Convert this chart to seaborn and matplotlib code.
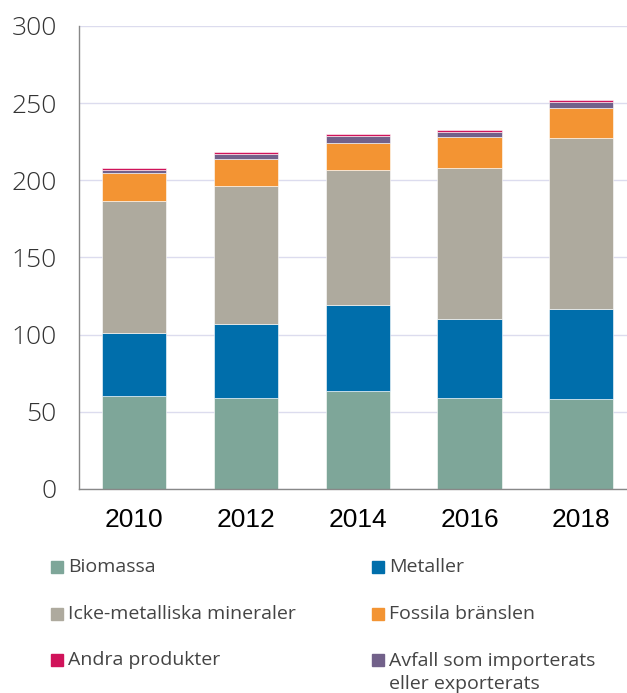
import pandas as pd
import matplotlib.pyplot as plt
import seaborn as sns
from matplotlib.patches import Rectangle

# ── DATA ─────────────────────────────────────────────────────────────────────
years     = ["2010", "2012", "2014", "2016", "2018"]
biomassa  = [60.5, 59.1, 63.2, 59.1, 58.5]
metaller  = [40.5, 48.1, 55.7, 50.9, 58.4]
icke_met  = [85.3, 89.1, 87.7, 98.2, 110.2]
fossila   = [18.3, 17.2, 17.7, 19.6, 19.7]
avfall    = [2.2, 3.5, 4.3, 3.5, 4.0]
andra     = [1.0, 1.1, 1.2, 1.0, 1.5]

cats = ["Biomassa", "Metaller", "Icke-metalliska mineraler",
        "Fossila bränslen", "Avfall som importerats\neller exporterats",
        "Andra produkter"]
series = [biomassa, metaller, icke_met, fossila, avfall, andra]
colors = ["#7ea699", "#006eab", "#aeaa9e", "#f39433", "#72618a", "#d0135a"]

df = pd.DataFrame([(y, c, v) for c, vals in zip(cats, series)
                   for y, v in zip(years, vals)],
                  columns=["year", "category", "value"])

# ── PLOT ─────────────────────────────────────────────────────────────────────
sns.set_theme(style="white")
fig = plt.figure(figsize=(6.27, 6.93), dpi=100)
ax = fig.add_axes([0.126, 0.2944, 0.874, 0.6681])

# histplot stacks the first hue level on top -> reverse the order
sns.histplot(data=df, x="year", weights="value", hue="category",
             hue_order=cats[::-1], palette=dict(zip(cats, colors)),
             multiple="stack", discrete=True, shrink=0.575, alpha=1,
             edgecolor="white", linewidth=0.4, legend=False, ax=ax)

ax.set_ylim(0, 300)
ax.set_xlim(-0.494, 4.41)
ax.set_yticks(range(0, 301, 50))
ax.yaxis.grid(True, color="#dcdcee", linewidth=1)
ax.set_axisbelow(True)
for s in ["top", "right"]:
    ax.spines[s].set_visible(False)
for s in ["left", "bottom"]:
    ax.spines[s].set_color("#888888")
    ax.spines[s].set_linewidth(1)
ax.set_xlabel("")
ax.set_ylabel("")
ax.tick_params(axis="y", length=0, pad=16, labelsize=19, labelcolor="#333333")
ax.tick_params(axis="x", length=0, pad=14, labelsize=19, labelcolor="black")
for t in ax.get_yticklabels():
    t.set_family("Open Sans")
    t.set_fontweight("light")
for t in ax.get_xticklabels():
    t.set_family("Liberation Sans")

# legend, two columns (drawn by hand so the two-line label sits like the original)
W, H = 627, 693
leg_order = [(0, 0), (1, 1), (2, 0), (3, 1), (5, 0), (4, 1)]
row_y = [567, 567, 614, 614, 660, 660]
xcol = {0: 51, 1: 372}
for (ci, col), y in zip(leg_order, row_y):
    x = xcol[col]
    fig.add_artist(Rectangle((x / W, 1 - (y + 6) / H), 11.5 / W, 12.3 / H,
                             transform=fig.transFigure, color=colors[ci]))
    if "\n" in cats[ci]:
        fig.text((x + 17) / W, 1 - (y - 8) / H, cats[ci], family="Open Sans",
                 fontsize=14, color="#444444", va="top", linespacing=1.35)
    else:
        fig.text((x + 17) / W, 1 - y / H, cats[ci], family="Open Sans",
                 fontsize=14, color="#444444", va="center")

plt.savefig("out.png", dpi=100)
